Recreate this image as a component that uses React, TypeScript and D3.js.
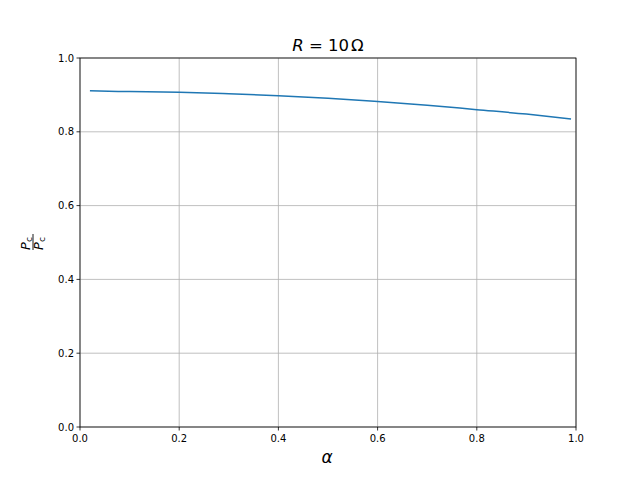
import React from "react";
import * as d3 from "d3";

const alphaValues = [0.02, 0.1, 0.2, 0.3, 0.4, 0.5, 0.6, 0.7, 0.8, 0.9, 0.99];
const ratioValues = [0.911, 0.909, 0.907, 0.903, 0.898, 0.891, 0.882, 0.872, 0.860, 0.848, 0.835];
const xTicks = [0, 0.2, 0.4, 0.6, 0.8, 1.0];
const yTicks = [0, 0.2, 0.4, 0.6, 0.8, 1.0];

const W = 640, H = 480;
const left = 80, right = 576, top = 58, bottom = 427;

export default function App() {
  const x = d3.scaleLinear().domain([0, 1]).range([left, right]);
  const y = d3.scaleLinear().domain([0, 1]).range([bottom, top]);
  const pts = alphaValues.map((a, i) => [a, ratioValues[i]] as [number, number]);
  const line = d3.line<[number, number]>().x(d => x(d[0])).y(d => y(d[1])).curve(d3.curveMonotoneX);
  const font = "DejaVu Sans, sans-serif";
  return (
    <svg width={W} height={H} style={{ position: "absolute", left: 0, top: 0, background: "#fff" }} fontFamily={font}>
      <rect x={0} y={0} width={W} height={H} fill="#fff" />
      {xTicks.map(t => (
        <line key={"gx" + t} x1={x(t)} x2={x(t)} y1={top} y2={bottom} stroke="#b0b0b0" strokeWidth={0.8} />
      ))}
      {yTicks.map(t => (
        <line key={"gy" + t} x1={left} x2={right} y1={y(t)} y2={y(t)} stroke="#b0b0b0" strokeWidth={0.8} />
      ))}
      <path d={line(pts) || ""} fill="none" stroke="#1f77b4" strokeWidth={1.5} />
      <rect x={left} y={top} width={right - left} height={bottom - top} fill="none" stroke="#000" strokeWidth={0.8} />
      {xTicks.map(t => (
        <g key={"tx" + t}>
          <line x1={x(t)} x2={x(t)} y1={bottom} y2={bottom + 3.5} stroke="#000" strokeWidth={0.8} />
          <text x={x(t)} y={bottom + 15} fontSize={10} textAnchor="middle">{t.toFixed(1)}</text>
        </g>
      ))}
      {yTicks.map(t => (
        <g key={"ty" + t}>
          <line x1={left - 3.5} x2={left} y1={y(t)} y2={y(t)} stroke="#000" strokeWidth={0.8} />
          <text x={left - 6} y={y(t) + 3.6} fontSize={10} textAnchor="end">{t.toFixed(1)}</text>
        </g>
      ))}
      <text x={328} y={51} fontSize={16.5} textAnchor="middle">
        <tspan fontStyle="italic">R</tspan>
        <tspan> = 10</tspan>
        <tspan dx={2}>Ω</tspan>
      </text>
      <text x={327} y={463} fontSize={17} fontStyle="italic" textAnchor="middle">α</text>
      <g transform="translate(33,242) rotate(-90)">
        <text x={-1.5} y={-3} fontSize={13} textAnchor="middle">
          <tspan fontStyle="italic">P</tspan>
          <tspan fontSize={9} dy={2}>c</tspan>
        </text>
        <line x1={-8} x2={8} y1={0} y2={0} stroke="#000" strokeWidth={0.9} />
        <text x={-1.5} y={10} fontSize={13} textAnchor="middle">
          <tspan fontStyle="italic">P</tspan>
          <tspan fontSize={9} dy={2}>c</tspan>
        </text>
      </g>
    </svg>
  );
}
